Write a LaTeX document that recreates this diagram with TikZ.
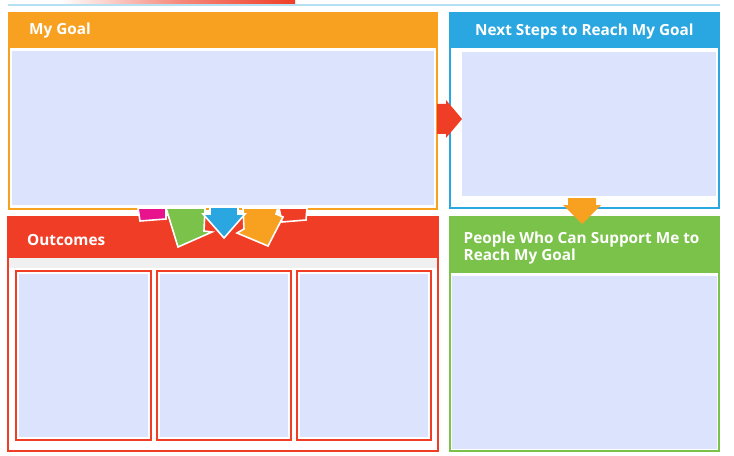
\documentclass[tikz,border=0pt]{standalone}
\usepackage{fontspec}
\setmainfont{Open Sans}
\begin{document}
\begin{tikzpicture}[x=0.75pt,y=-0.75pt,line width=1.1pt,
  hdr/.style={text=white,font=\fontsize{11.5}{12.5}\selectfont\bfseries,anchor=west},
  arr/.style={draw=white,line width=1.2pt,line join=miter}]
\definecolor{inbg}{HTML}{DCE3FD}
\definecolor{org}{HTML}{F8A020}
\definecolor{blu}{HTML}{2AA7E0}
\definecolor{rd}{HTML}{F03E26}
\definecolor{grn}{HTML}{7BC24A}
\definecolor{pnk}{HTML}{E8128C}
\useasboundingbox (0,0) rectangle (734,456);
\fill[white] (0,0) rectangle (734,456);
% top bar
\shade[left color=white,right color=rd,middle color=rd!60] (60,0) rectangle (295,4);
\draw[blu!35,line width=1pt] (8,5) -- (720,5);
% My Goal
\draw[org,fill=white] (9,13) rectangle (437,209);
\fill[org] (9,13) rectangle (437,48);
\fill[inbg] (12,51) rectangle (434,205);
\node[hdr] (g) at (24,31) {My Goal};
% Next steps
\draw[blu,fill=white] (450,13) rectangle (719,208);
\fill[blu] (450,13) rectangle (719,48);
\fill[inbg] (462,52) rectangle (716,196);
\node[hdr] (n) at (470,32) {Next Steps to Reach My Goal};
% Outcomes
\draw[rd,fill=white] (8,217) rectangle (438,451);
\fill[rd] (8,217) rectangle (438,258);
\fill[gray!12] (9,258) rectangle (437,268);
\node[hdr] (o) at (22,240) {Outcomes};
\foreach \a/\b in {16/151,157/291,297/431}{
  \draw[rd,fill=white] (\a,271) rectangle (\b,440);
  \fill[inbg] (\a+3,274) rectangle (\b-3,437);
}
% People
\draw[grn,fill=white] (450,217) rectangle (719,451);
\fill[grn] (450,217) rectangle (719,273);
\fill[inbg] (452,276) rectangle (717,449);
\node[hdr,align=left,anchor=north west,inner sep=0pt] (p) at (463,231) {People Who Can Support Me to\\Reach My Goal};
% right arrow
\fill[rd] (437,104) -- (446,104) -- (446,100) -- (462,119) -- (446,138) -- (446,134) -- (437,134) -- cycle;
% down orange arrow
\fill[org] (568,198) -- (596,198) -- (596,205) -- (601,205) -- (582,224) -- (563,205) -- (568,205) -- cycle;
% cluster
\fill[arr,fill=pnk] (138,208) -- (166,208) -- (166,219) -- (140,221) -- cycle;
\fill[arr,fill=rd] (279,208) -- (307,208) -- (306,220) -- (282,222) -- cycle;
\filldraw[arr,fill=grn] (166,208) -- (205,208) -- (204,231) -- (212,232) -- (178,247) -- cycle;
\filldraw[arr,fill=org] (243,208) -- (278,208) -- (276,214) -- (283,217) -- (268,246) -- (237,233) -- (244,229) -- cycle;
\filldraw[arr,fill=blu] (210,207) -- (238,207) -- (238,214) -- (245,214) -- (224,238) -- (203,214) -- (210,214) -- cycle;
\end{tikzpicture}
\end{document}
